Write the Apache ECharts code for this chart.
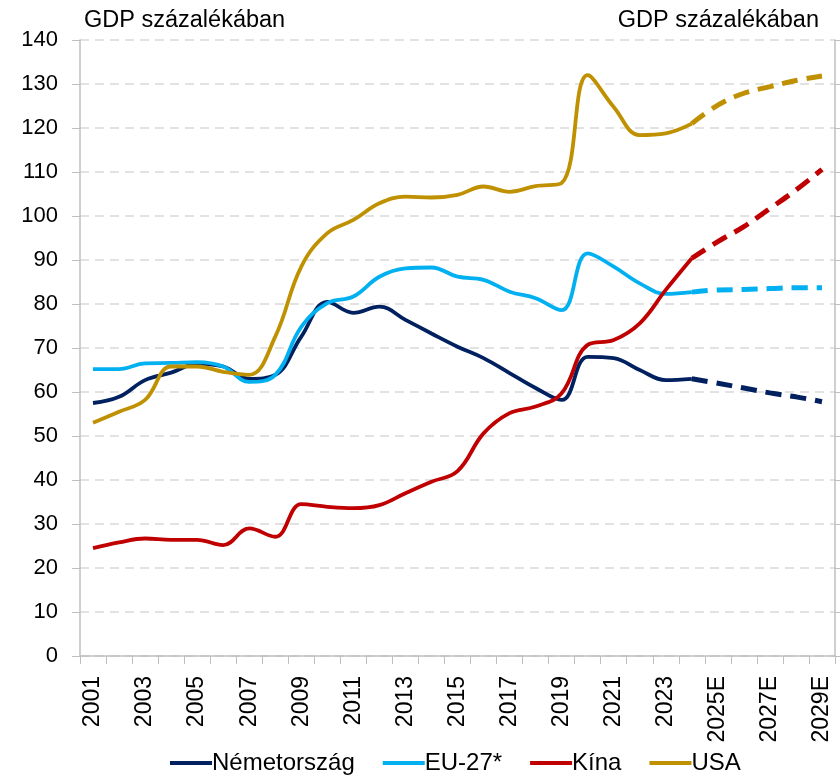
<!DOCTYPE html>
<html>
<head>
<meta charset="utf-8">
<script src="https://cdn.jsdelivr.net/npm/echarts@6/dist/echarts.min.js"></script>
<style>
  html, body { margin: 0; padding: 0; background: #fff; }
  #chart { width: 840px; height: 778px; }
</style>
</head>
<body>
<div id="chart"></div>
<script>
const years = ['2001', '2002', '2003', '2004', '2005', '2006', '2007', '2008', '2009', '2010',
  '2011', '2012', '2013', '2014', '2015', '2016', '2017', '2018', '2019', '2020',
  '2021', '2022', '2023', '2024', '2025E', '2026E', '2027E', '2028E', '2029E']
// first forecast-dashed point (line goes dashed from here)
const dashFrom = 23

const germany = [57.5, 58.9, 62.7, 64.4, 66.4, 65.8, 63.0, 63.9, 72.6, 80.5,
  78.0, 79.4, 76.4, 73.3, 70.3, 67.7, 64.3, 60.9, 58.2, 68.0,
  67.7, 65.0, 62.7, 63.0, 62.0, 60.9, 59.8, 58.9, 57.8]
const eu27 = [65.2, 65.2, 66.5, 66.6, 66.8, 65.8, 62.3, 63.9, 74.8, 80.2,
  81.7, 86.2, 88.1, 88.3, 86.2, 85.5, 82.8, 81.3, 78.6, 91.5,
  88.5, 84.7, 82.3, 82.7, 83.2, 83.3, 83.5, 83.7, 83.7]
const china = [24.5, 25.8, 26.7, 26.4, 26.4, 25.2, 29.0, 27.1, 34.5, 33.9,
  33.6, 34.3, 37.0, 39.6, 42.0, 50.6, 55.2, 56.7, 59.7, 70.7,
  71.8, 75.6, 83.2, 90.4, 94.2, 97.6, 101.7, 105.9, 110.6]
const usa = [53.0, 55.5, 58.2, 65.8, 65.8, 64.6, 63.9, 72.6, 88.5, 96.1,
  99.1, 102.9, 104.4, 104.2, 104.8, 106.7, 105.5, 106.8, 107.5, 132.0,
  124.8, 118.4, 118.8, 121.0, 125.2, 127.9, 129.4, 130.8, 131.8]

const seriesDefs = [
  { name: 'Németország', data: germany, color: '#002060' },
  { name: 'EU-27*', data: eu27, color: '#00B0F0' },
  { name: 'Kína', data: china, color: '#C00000' },
  { name: 'USA', data: usa, color: '#BF9000' }
]

const font = 'Liberation Sans, Arial, sans-serif'
const chart = echarts.init(document.getElementById('chart'))

const series = []
seriesDefs.forEach(s => {
  series.push({
    name: s.name,
    type: 'line',
    smooth: 0.4,
    symbol: 'none',
    data: s.data.map((v, i) => i <= dashFrom ? v : null),
    lineStyle: { color: s.color, width: 3.8 },
    itemStyle: { color: s.color }
  })
  series.push({
    name: s.name + ' (E)',
    type: 'line',
    smooth: 0.4,
    symbol: 'none',
    data: s.data.map((v, i) => i >= dashFrom ? v : null),
    lineStyle: { color: s.color, width: 5, type: [16, 9] },
    itemStyle: { color: s.color }
  })
})

const option = {
  animation: false,
  textStyle: { fontFamily: font },
  title: [
    { text: 'GDP százalékában', left: 84, top: 9, padding: 0,
      textStyle: { fontSize: 23.5, fontWeight: 'normal', color: '#000', fontFamily: font } },
    { text: 'GDP százalékában', right: 21, top: 9, padding: 0,
      textStyle: { fontSize: 23.5, fontWeight: 'normal', color: '#000', fontFamily: font } }
  ],
  legend: {
    data: seriesDefs.map(s => s.name),
    top: 746,
    left: 165,
    icon: 'rect',
    itemWidth: 42,
    itemHeight: 4,
    itemGap: 28,
    textStyle: { fontSize: 24, color: '#000', fontFamily: font, padding: [0, 0, 0, -5] }
  },
  grid: { left: 80, right: 5, top: 40, bottom: 122 },
  xAxis: {
    type: 'category',
    data: years,
    boundaryGap: true,
    axisLine: { lineStyle: { color: '#BFBFBF', width: 1.5 } },
    axisTick: { show: true, interval: 0, length: 8, lineStyle: { color: '#BFBFBF' } },
    axisLabel: { interval: 1, rotate: 90, fontSize: 23, color: '#000', margin: 20, fontFamily: font }
  },
  yAxis: [
    {
      type: 'value',
      min: 0, max: 140, interval: 10,
      axisLine: { show: true, lineStyle: { color: '#BFBFBF', width: 1.5 } },
      axisTick: { show: true, length: 8, lineStyle: { color: '#BFBFBF' } },
      axisLabel: { fontSize: 22, color: '#000', margin: 22, fontFamily: font },
      splitLine: { lineStyle: { color: '#D9D9D9', type: [9, 6], width: 1.5 } }
    },
    {
      type: 'value',
      position: 'right',
      min: 0, max: 140, interval: 10,
      axisLine: { show: true, lineStyle: { color: '#BFBFBF', width: 1.5 } },
      axisTick: { show: true, length: 8, lineStyle: { color: '#BFBFBF' } },
      axisLabel: { show: false },
      splitLine: { show: false }
    }
  ],
  series: series
}

chart.setOption(option)
</script>
</body>
</html>
